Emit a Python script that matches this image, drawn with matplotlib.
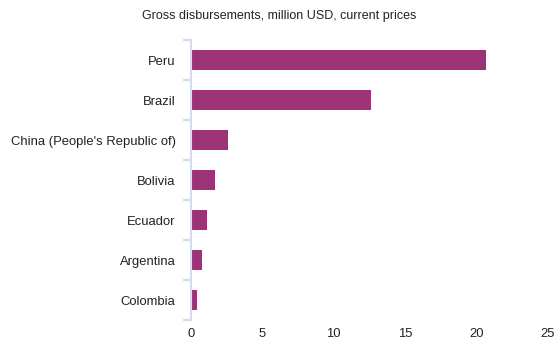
import matplotlib
matplotlib.use("Agg")
from matplotlib import pyplot as plt
import numpy as np

countries = ["Peru", "Brazil", "China (People's Republic of)", "Bolivia",
             "Ecuador", "Argentina", "Colombia"]
values = [20.7, 12.6, 2.6, 1.7, 1.15, 0.75, 0.45]

plt.rcParams['font.family'] = ['Liberation Sans', 'DejaVu Sans']

fig = plt.figure(figsize=(5.59, 3.46), dpi=100)
ax = fig.add_axes([0.3417, 0.075, 0.638, 0.809])

y = np.arange(len(countries))
ax.barh(y, values, height=0.5, color="#9c3378")
ax.set_ylim(len(countries) - 0.5, -0.5)
ax.set_xlim(0, 25)
ax.set_xticks([0, 5, 10, 15, 20, 25])

ax.set_yticks(y)
ax.set_yticklabels(countries, fontsize=9.4, color="#222222")
ax.tick_params(axis="y", length=0, pad=11)
ax.set_yticks(np.arange(-0.5, len(countries), 1), minor=True)
ax.tick_params(axis="y", which="minor", length=6, width=1.5, color="#d3dbef")
ax.tick_params(axis="x", length=0, labelsize=9.4, labelcolor="#222222", pad=6)

for s in ["top", "right", "bottom"]:
    ax.spines[s].set_visible(False)
ax.spines["left"].set_color("#d3dbef")
ax.spines["left"].set_linewidth(1.5)

fig.text(0.5, 0.955, "Gross disbursements, million USD, current prices",
         ha="center", va="center", fontsize=9.0, color="#222222")

fig.savefig("out.png", dpi=100)
